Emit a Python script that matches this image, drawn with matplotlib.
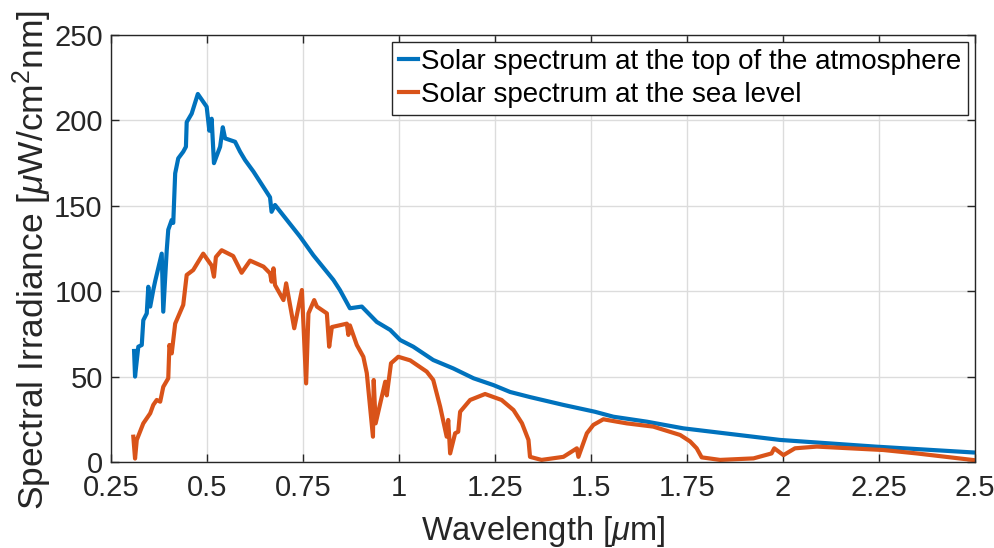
import matplotlib
matplotlib.use('Agg')
import matplotlib.pyplot as plt
import numpy as np

# solar spectrum at top of atmosphere (wavelength um, irradiance uW/cm^2nm)
top_wl = [0.310, 0.3125, 0.321, 0.330, 0.334, 0.343, 0.347, 0.352, 0.360, 0.365, 0.382, 0.386,
          0.395, 0.399, 0.408, 0.412, 0.417, 0.425, 0.438, 0.445, 0.447, 0.460, 0.476, 0.499,
          0.506, 0.512, 0.518, 0.534, 0.541, 0.547, 0.573, 0.586, 0.599, 0.621, 0.664, 0.668,
          0.677, 0.742, 0.777, 0.829, 0.846, 0.872, 0.903, 0.942, 0.977, 1.003, 1.037, 1.089,
          1.141, 1.194, 1.246, 1.289, 1.341, 1.428, 1.510, 1.558, 1.645, 1.740, 1.992, 2.240,
          2.500]
top_irr = [65, 50, 67.5, 68.5, 83, 87, 102.6, 91, 100.7, 106, 122, 88,
           124, 136, 141.7, 140, 169, 177.8, 181.7, 184.6, 199, 204, 215.5, 208,
           194, 201, 175, 184.6, 196, 189.5, 187.5, 181.7, 176.8, 170, 155, 146.5,
           150.5, 132, 121, 106.6, 100.7, 90, 91, 82, 77.3, 71.4, 67.5, 59.7,
           54.8, 49, 45, 41, 38, 33.4, 29.4, 26.5, 23.6, 19.7, 12.9, 9,
           5.5]

# solar spectrum at sea level
sea_wl = [0.308, 0.3125, 0.317, 0.334, 0.352, 0.360, 0.369, 0.378, 0.386, 0.399, 0.402, 0.408,
          0.417, 0.438, 0.447, 0.464, 0.490, 0.512, 0.518, 0.523, 0.538, 0.568, 0.590, 0.612,
          0.647, 0.664, 0.668, 0.673, 0.677, 0.699, 0.706, 0.727, 0.747, 0.758, 0.764, 0.779,
          0.786, 0.812, 0.818, 0.825, 0.864, 0.868, 0.872, 0.890, 0.907, 0.916, 0.932, 0.934,
          0.939, 0.964, 0.968, 0.979, 0.998, 1.029, 1.072, 1.089, 1.107, 1.124, 1.128, 1.133,
          1.146, 1.154, 1.159, 1.185, 1.224, 1.267, 1.298, 1.320, 1.337, 1.341, 1.371, 1.428,
          1.463, 1.467, 1.489, 1.506, 1.532, 1.567, 1.593, 1.662, 1.732, 1.758, 1.775, 1.788,
          1.836, 1.923, 1.970, 1.977, 2.001, 2.031, 2.088, 2.174, 2.261, 2.348, 2.500]
sea_irr = [14.8, 2, 12.9, 22.6, 28.5, 33.4, 36.3, 35.3, 44, 49, 68.5, 63.6,
           81, 92, 109.5, 112.4, 122, 115, 108.5, 120, 124, 120.6, 110.8, 117.9,
           114.4, 110.5, 105.6, 113.4, 103.6, 94.8, 104.6, 78.3, 100.7, 46, 87, 94.8,
           91, 87, 67.5, 79, 81, 74.4, 80, 68.5, 61.6, 52, 14.8, 48,
           22.6, 47, 39, 57.8, 61.6, 59.5, 52.9, 48, 32.4, 14.8, 24.6, 5,
           16.8, 17.7, 29.4, 36.3, 39.8, 36.3, 30.4, 22.7, 12.9, 3, 1.2, 3,
           8, 3, 16.8, 21.7, 25, 23.6, 22.6, 20.7, 15.8, 12, 8, 2.7,
           1.2, 2.1, 5, 8, 4, 8, 9, 8, 7, 5, 1]

xticks = [0.25, 0.5, 0.75, 1, 1.25, 1.5, 1.75, 2, 2.25, 2.5]
xticklabels = ['0.25', '0.5', '0.75', '1', '1.25', '1.5', '1.75', '2', '2.25', '2.5']
yticks = [0, 50, 100, 150, 200, 250]

plt.rcParams['font.family'] = ['Liberation Sans', 'DejaVu Sans']
plt.rcParams['mathtext.fontset'] = 'custom'
plt.rcParams['mathtext.rm'] = 'Liberation Sans'
plt.rcParams['mathtext.it'] = 'Liberation Sans:italic'

fig = plt.figure(figsize=(9.95, 5.48), dpi=100)
ax = fig.add_axes([0.1116, 0.157, 0.8684, 0.779])

ax.plot(top_wl, top_irr, color='#0072BD', lw=3, label='Solar spectrum at the top of the atmosphere')
ax.plot(sea_wl, sea_irr, color='#D95319', lw=3, label='Solar spectrum at the sea level')

ax.set_xlim(0.25, 2.5)
ax.set_ylim(0, 250)
ax.set_xticks(xticks)
ax.set_xticklabels(xticklabels)
ax.set_yticks(yticks)
ax.grid(True, color='#dcdcdc', lw=1)
ax.set_axisbelow(True)
ax.tick_params(direction='in', top=True, right=True, length=6, width=1,
               labelsize=21, colors='#262626', labelcolor='#262626', pad=6)
ax.tick_params(axis='x', pad=9)
for s in ax.spines.values():
    s.set_color('#262626')
    s.set_linewidth(1)

ax.set_xlabel(r'Wavelength [$\mu$m]', fontsize=23.5, color='#262626', labelpad=8)
ax.set_ylabel(r'Spectral Irradiance [$\mu$W/cm$^2$nm]', fontsize=25.5, color='#262626')
ax.yaxis.set_label_coords(-0.066, 0.473)

leg = ax.legend(loc='upper right', fontsize=20, handlelength=0.7, handletextpad=0.1,
                borderpad=0.25, labelspacing=0.25, borderaxespad=0.25, fancybox=False,
                framealpha=1, edgecolor='#262626')
leg.get_frame().set_linewidth(1)

fig.savefig('out.png', dpi=100)
